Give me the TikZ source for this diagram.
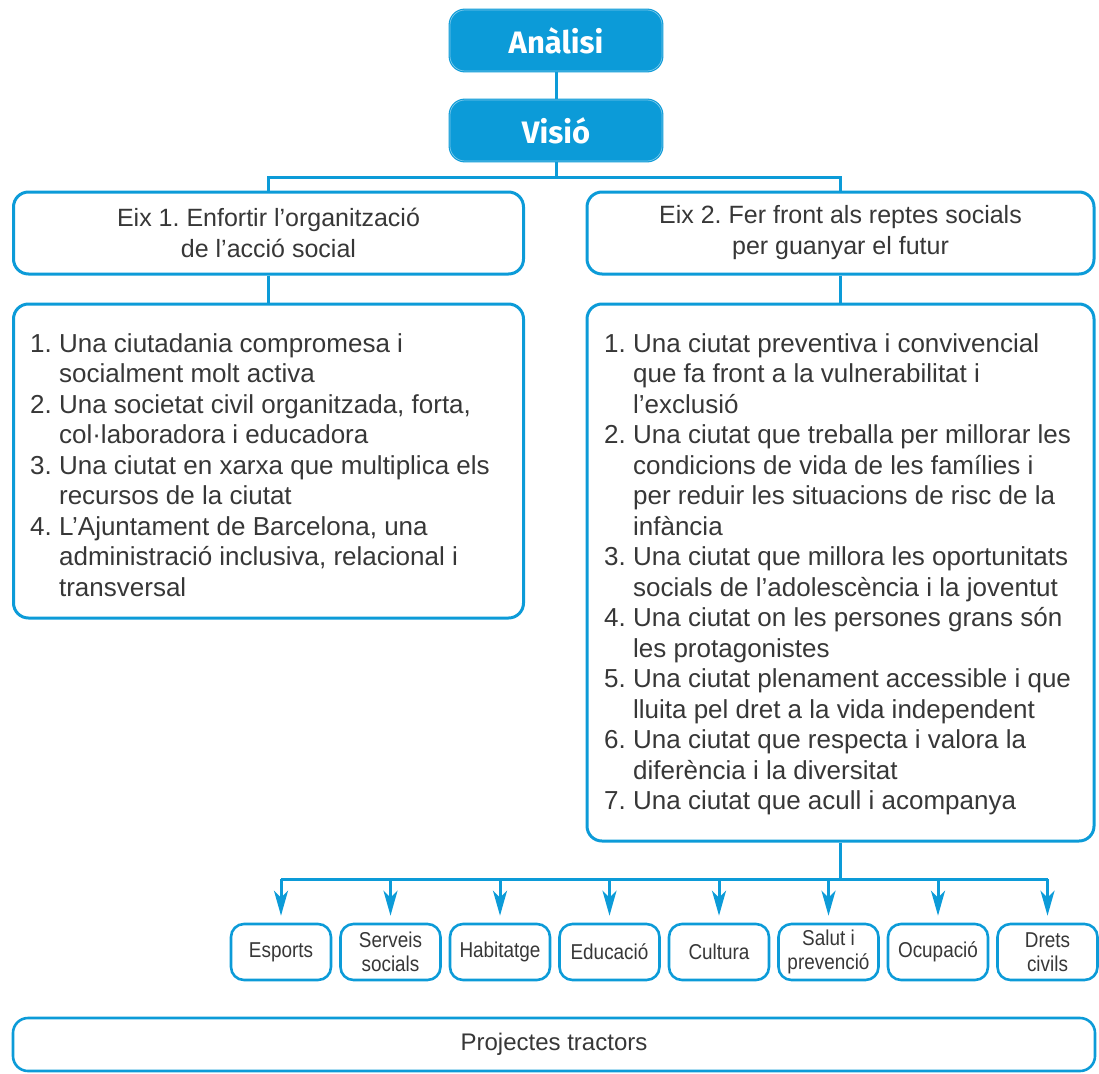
\documentclass[tikz,border=0pt]{standalone}
\usepackage{fontspec}
\setmainfont{Liberation Sans}
\newfontfamily\fira{Fira Sans}
\newfontfamily\narrow{Liberation Sans}[FakeStretch=0.88]
\usetikzlibrary{arrows.meta}
\frenchspacing
\definecolor{bl}{RGB}{12,155,216}
\definecolor{tx}{RGB}{55,55,55}
\newcommand\hg{\hspace*{28.9pt}}
\begin{document}
\begin{tikzpicture}[x=1pt,y=-1pt,
  topbox/.style={rounded corners=15pt, fill=bl, draw=bl, line width=1.1pt,
    double=bl!55!white, double distance=0.7pt, minimum width=212pt,
    minimum height=61pt, inner sep=0pt, text=white,
    font=\fira\bfseries\fontsize{31}{36}\selectfont},
  axisbox/.style={rounded corners=15pt, draw=bl, line width=3pt, fill=white,
    minimum height=82pt, inner sep=0pt, align=center, text=tx,
    font=\fontsize{25}{31}\selectfont},
  listbox/.style={rounded corners=15pt, draw=bl, line width=3pt, inner sep=0pt},
  listtxt/.style={anchor=north west, inner sep=0pt, align=left, text=tx,
    font=\fontsize{26}{30.5}\selectfont},
  smallbox/.style={rounded corners=13pt, draw=bl, line width=2.6pt,
    minimum width=100pt, minimum height=56pt, inner sep=0pt, align=center,
    text=tx, font=\narrow\fontsize{21.5}{24}\selectfont},
  projbox/.style={rounded corners=15pt, draw=bl, line width=2.6pt,
    minimum width=1082pt, minimum height=53pt, inner sep=0pt, text=tx,
    font=\fontsize{24}{28}\selectfont},
  conn/.style={draw=bl, line width=3pt},
  arr/.style={conn, -{Stealth[length=25pt 0, width=14pt 0, inset=7pt 0]}, shorten >=7pt}
]
\useasboundingbox (0,0) rectangle (1099,1073);

\node[topbox] (A) at (556,40.5) {Anàlisi};
\node[topbox] (V) at (556,130.5) {Visió};

\node[axisbox, minimum width=510pt] (E1) at (268.5,233)
  {Eix 1. Enfortir l’organització\\de l’acció social};
\node[axisbox, minimum width=507pt] (E2) at (840.5,233)
  {Eix 2. Fer front als reptes socials\\per guanyar el futur};

\node[listbox, minimum width=510pt, minimum height=314pt] (L1) at (268.5,461) {};
\node[listbox, minimum width=507pt, minimum height=537pt] (L2) at (840.5,572.5) {};

\node[listtxt] (T1) at (30,330.6) {\strut 1. Una ciutadania compromesa i\\
\hg socialment molt activa\\
2. Una societat civil organitzada, forta,\\
\hg col·laboradora i educadora\\
3. Una ciutat en xarxa que multiplica els\\
\hg recursos de la ciutat\\
4. L’Ajuntament de Barcelona, una\\
\hg administració inclusiva, relacional i\\
\hg transversal};

\node[listtxt] (T2) at (604,330.6) {\strut 1. Una ciutat preventiva i convivencial\\
\hg que fa front a la vulnerabilitat i\\
\hg l’exclusió\\
2. Una ciutat que treballa per millorar les\\
\hg condicions de vida de les famílies i\\
\hg per reduir les situacions de risc de la\\
\hg infància\\
3. Una ciutat que millora les oportunitats\\
\hg socials de l’adolescència i la joventut\\
4. Una ciutat on les persones grans són\\
\hg les protagonistes\\
5. Una ciutat plenament accessible i que\\
\hg lluita pel dret a la vida independent\\
6. Una ciutat que respecta i valora la\\
\hg diferència i la diversitat\\
7. Una ciutat que acull i acompanya};

\node[smallbox] (S1) at (281,952) {Esports};
\node[smallbox] (S2) at (390.5,952) {Serveis\\socials};
\node[smallbox] (S3) at (500,952) {Habitatge};
\node[smallbox] (S4) at (609.5,952) {Educació};
\node[smallbox] (S5) at (719,952) {Cultura};
\node[smallbox] (S6) at (828.5,952) {Salut i\\prevenció};
\node[smallbox] (S7) at (938,952) {Ocupació};
\node[smallbox] (S8) at (1047.5,952) {Drets\\civils};

\node[projbox] (P) at (554,1044.5) {Projectes tractors};

% connectors
\coordinate (tb) at (0,177);
\coordinate (bus) at (0,879);
\draw[conn] (A.south) -- (V.north);
\draw[conn] (V.south) -- (V.south |- tb);
\draw[conn] (E1.north) -- (E1.north |- tb) -- (E2.north |- tb) -- (E2.north);
\draw[conn] (E1.south) -- (L1.north);
\draw[conn] (E2.south) -- (L2.north);
\draw[conn] (L2.south) -- (L2.south |- bus);
\draw[conn] (S1.north |- bus) -- (S8.north |- bus);
\foreach \s in {S1,S2,S3,S4,S5,S6,S7,S8}
  \draw[arr] (\s.north |- bus) -- (\s.north);
\end{tikzpicture}
\end{document}
